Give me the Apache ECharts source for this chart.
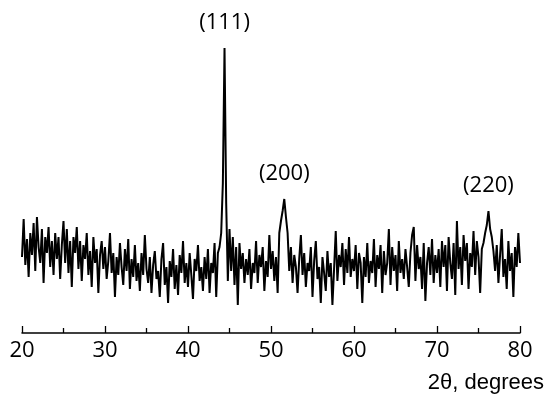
<!DOCTYPE html>
<html>
<head>
<meta charset="utf-8">
<script src="https://cdn.jsdelivr.net/npm/echarts@6/dist/echarts.min.js"></script>
<style>
  html, body { margin: 0; padding: 0; background: #fff; }
  #chart { width: 550px; height: 401px; }
</style>
</head>
<body>
<div id="chart"></div>
<script>
// scan grid: 20..80 deg in 0.2 deg steps
var thetaStart = 20, thetaStep = 0.2;
var xTicks = [20, 30, 40, 50, 60, 70, 80];

// intensity (arb. units), one row = 2 degrees
var intensity = [
  76, 114, 68, 94, 56, 100, 78, 110, 62, 116,  // 20
  86, 70, 104, 50, 96, 80, 106, 66, 92, 58,    // 22
  100, 74, 96, 54, 88, 112, 70, 104, 60, 92,   // 24
  46, 96, 80, 106, 64, 92, 52, 88, 74, 100,    // 26
  58, 82, 46, 96, 70, 84, 40, 78, 92, 64,      // 28
  86, 54, 72, 100, 60, 80, 36, 76, 58, 90,     // 30
  66, 48, 84, 62, 94, 44, 74, 56, 88, 52,      // 32
  70, 42, 80, 58, 98, 64, 50, 76, 40, 68,      // 34
  82, 54, 62, 36, 74, 90, 48, 66, 30, 72,      // 36
  56, 84, 44, 68, 38, 78, 60, 92, 50, 70,      // 38
  46, 80, 58, 34, 74, 62, 88, 52, 66, 42,      // 40
  76, 54, 84, 40, 70, 60, 90, 36, 80, 86,      // 42
  100, 150, 285, 130, 52, 104, 62, 96, 48, 86, // 44
  28, 90, 64, 80, 50, 74, 58, 84, 44, 70,      // 46
  60, 92, 50, 78, 66, 86, 42, 72, 56, 98,      // 48
  64, 82, 52, 76, 40, 100, 112, 122, 134, 116, // 50
  100, 62, 86, 50, 78, 66, 40, 74, 98, 58,     // 52
  80, 46, 70, 62, 86, 36, 72, 92, 54, 66,      // 54
  30, 76, 60, 42, 82, 56, 70, 28, 64, 102,     // 56
  52, 78, 66, 90, 48, 84, 60, 96, 56, 74,      // 58
  62, 88, 44, 80, 70, 30, 76, 56, 90, 50,      // 60
  72, 60, 94, 46, 78, 64, 88, 40, 82, 58,      // 62
  70, 104, 48, 86, 62, 78, 42, 92, 60, 74,     // 64
  54, 84, 66, 46, 80, 98, 106, 52, 88, 64,     // 66
  76, 44, 90, 32, 70, 86, 58, 94, 50, 78,      // 68
  60, 84, 46, 92, 66, 88, 42, 96, 70, 54,      // 70
  90, 38, 112, 64, 86, 48, 98, 72, 90, 44,     // 72
  80, 66, 102, 58, 92, 76, 40, 84, 90, 100,    // 74
  108, 122, 104, 96, 82, 62, 88, 50, 78, 104,  // 76
  56, 74, 44, 92, 62, 80, 36, 86, 66, 100,     // 78
  70                                           // 80
];

var peakLabels = ['(111)', '(200)', '(220)'];
var peakTheta = [44.4, 51.6, 76.2];
var peakHeight = [285, 134, 122];

var points = intensity.map(function (v, i) {
  return [+(thetaStart + i * thetaStep).toFixed(1), v];
});

var marks = [];
for (var i = 0; i < peakLabels.length; i++) {
  marks.push({ coord: [peakTheta[i], peakHeight[i]], value: peakLabels[i] });
}

var myChart = echarts.init(document.getElementById('chart'));
var option = {
  animation: false,
  backgroundColor: '#fff',
  grid: { left: 22, right: 30, top: 33, bottom: 68 },
  xAxis: {
    type: 'value',
    min: xTicks[0],
    max: xTicks[xTicks.length - 1],
    interval: 10,
    axisLine: { lineStyle: { color: '#000', width: 1.5 } },
    axisTick: { inside: true, length: 7, lineStyle: { color: '#000', width: 1.3 } },
    minorTick: { show: true, splitNumber: 2, length: 5, lineStyle: { color: '#000', width: 1.3 } },
    splitLine: { show: false },
    axisLabel: {
      color: '#000', fontSize: 22, margin: 7,
      fontFamily: 'Open Sans'
    }
  },
  yAxis: {
    type: 'value', min: 0, max: 300,
    show: false
  },
  graphic: [{
    type: 'text',
    right: 6,
    top: 372,
    style: { text: '2θ, degrees', fill: '#000', font: '22px "Liberation Sans"' }
  }],
  series: [{
    type: 'line',
    data: points,
    showSymbol: false,
    lineStyle: { color: '#000', width: 2 },
    markPoint: {
      symbol: 'circle',
      symbolSize: 1,
      itemStyle: { color: 'rgba(0,0,0,0)' },
      label: {
        show: true, position: 'top', distance: 14,
        color: '#000', fontSize: 22, fontFamily: 'Open Sans',
        formatter: function (p) { return p.value; }
      },
      data: marks
    }
  }]
};
myChart.setOption(option);
</script>
</body>
</html>
